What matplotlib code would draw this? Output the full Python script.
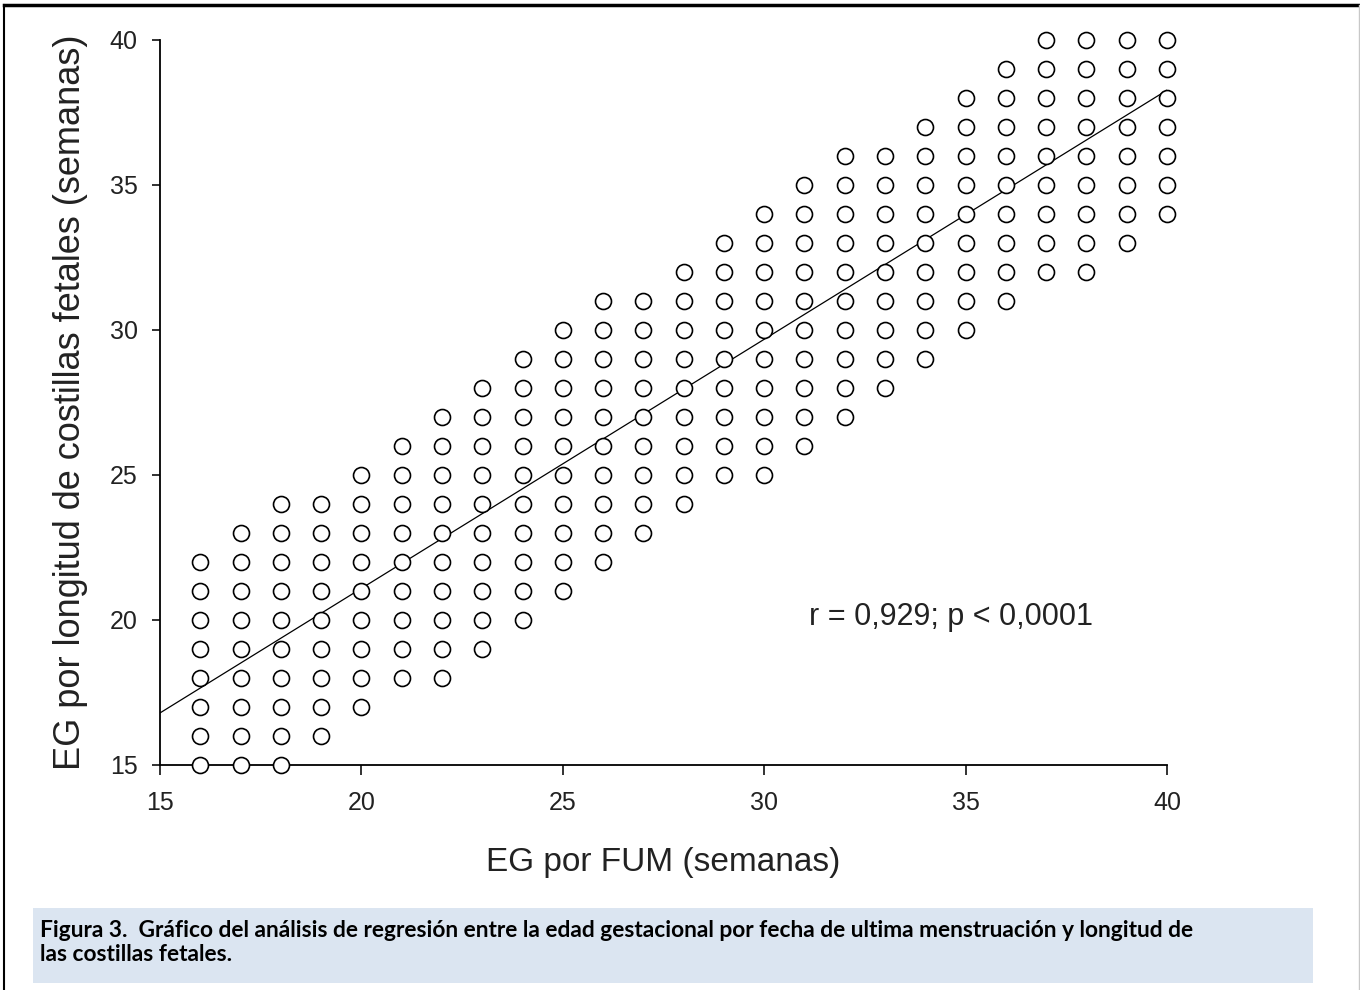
import numpy as np
import matplotlib
matplotlib.use("Agg")
import matplotlib.pyplot as plt
from matplotlib.lines import Line2D
from matplotlib.patches import Rectangle

# EG por FUM (semanas): each column of points, with lowest and highest EG by ribs
eg_fum = [16, 17, 18, 19, 20, 21, 22, 23, 24, 25, 26, 27, 28,
          29, 30, 31, 32, 33, 34, 35, 36, 37, 38, 39, 40]
eg_cost_min = [15, 15, 15, 16, 17, 18, 18, 19, 20, 21, 22, 23, 24,
               25, 25, 26, 27, 28, 29, 30, 31, 32, 32, 33, 34]
eg_cost_max = [22, 23, 24, 24, 25, 26, 27, 28, 29, 30, 31, 31, 32,
               33, 34, 35, 36, 36, 37, 38, 39, 40, 40, 40, 40]

# regression line
slope = 0.859
intercept = 3.91
line_x = [15, 40]

stat_text = "r = 0,929; p < 0,0001"
xlabel = "EG por FUM (semanas)"
ylabel = "EG por longitud de costillas fetales (semanas)"
caption = ("Figura 3.  Gráfico del análisis de regresión entre la edad gestacional por fecha de ultima menstruación y longitud de\n"
           "las costillas fetales.")

# expand columns into individual points
px, py = [], []
for x, lo, hi in zip(eg_fum, eg_cost_min, eg_cost_max):
    for y in range(lo, hi + 1):
        px.append(x)
        py.append(y)

plt.rcParams['font.family'] = ['Liberation Sans', 'DejaVu Sans']

W, H = 1360, 990
fig = plt.figure(figsize=(W / 100, H / 100), dpi=100)
ax = fig.add_axes([160 / W, 1 - 765 / H, (1167 - 160) / W, (765 - 40) / H])

lx = np.array(line_x)
ax.plot(lx, slope * lx + intercept, color="black", linewidth=0.9, zorder=2)
ax.plot(px, py, linestyle="none", marker="o", markersize=11.5,
        markerfacecolor="white", markeredgecolor="black", markeredgewidth=1.2,
        zorder=3, clip_on=False)

ax.set_xlim(15, 40)
ax.set_ylim(15, 40)
ax.set_xticks([15, 20, 25, 30, 35, 40])
ax.set_yticks([15, 20, 25, 30, 35, 40])
ax.spines["top"].set_visible(False)
ax.spines["right"].set_visible(False)
ax.spines["left"].set_linewidth(1.3)
ax.spines["bottom"].set_linewidth(1.3)
ax.tick_params(direction="out", length=7, width=1.3, labelsize=18, pad=12, colors="#222222")
ax.tick_params(axis="y", length=6, pad=10)
ax.set_xlabel(xlabel, fontsize=24, labelpad=23, color="#222222")
ax.set_ylabel(ylabel, fontsize=26, labelpad=16, color="#222222")

ax.text(31.1, 20.1, stat_text, fontsize=22, va="center", ha="left", color="#222222")

# caption box
fig.patches.append(Rectangle((33 / W, 1 - 983 / H), (1313 - 33) / W, (983 - 908) / H,
                             transform=fig.transFigure, facecolor="#dbe5f1",
                             edgecolor="none", zorder=0))
fig.text(40 / W, 1 - 920 / H, caption, fontsize=16.4, fontweight="bold",
         family=["Lato", "DejaVu Sans"], va="top", ha="left", linespacing=1.15)

# page border
fig.lines.append(Line2D([4 / W, 4 / W], [0, 1 - 5 / H], transform=fig.transFigure,
                        color="black", linewidth=1.5))
fig.lines.append(Line2D([4 / W, 1358 / W], [1 - 5 / H, 1 - 5 / H], transform=fig.transFigure,
                        color="black", linewidth=2.5))
fig.lines.append(Line2D([1358.5 / W, 1358.5 / W], [0, 1 - 5 / H], transform=fig.transFigure,
                        color="#c8c8c8", linewidth=1))

fig.savefig("out.png", dpi=100)
